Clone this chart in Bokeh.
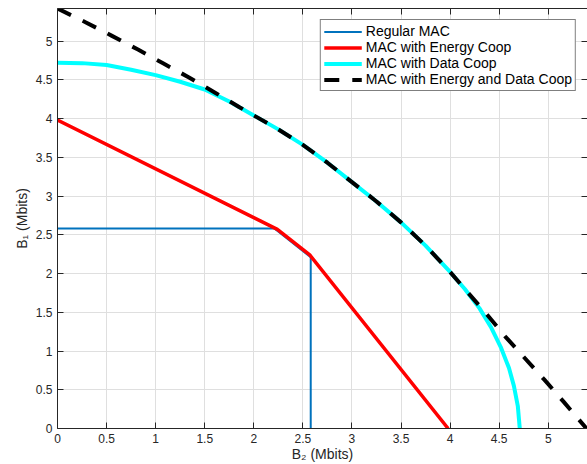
from bokeh.plotting import figure
from bokeh.models import LinearAxis, FixedTicker, Range1d, Legend, LegendItem, CustomJSTickFormatter
from bokeh.embed import file_html
from bokeh.resources import INLINE

# ---- data ----
tick_values = [0, 0.5, 1, 1.5, 2, 2.5, 3, 3.5, 4, 4.5, 5]

regular_x = [0, 2.21, 2.58, 2.58]
regular_y = [2.58, 2.58, 2.21, 0]

energy_x = [0, 2.24, 2.57, 3.98]
energy_y = [3.98, 2.57, 2.24, 0]

data_x = [0, 0.25, 0.5, 0.75, 1.0, 1.25, 1.5, 1.75, 2.0, 2.25, 2.5, 2.75, 3.0, 3.25, 3.5,
          3.75, 4.0, 4.15, 4.3, 4.42, 4.52, 4.6, 4.65, 4.69, 4.71]
data_y = [4.72, 4.715, 4.69, 4.63, 4.56, 4.475, 4.375, 4.22, 4.04, 3.86, 3.66, 3.43, 3.18, 2.93, 2.66,
          2.36, 2.02, 1.80, 1.55, 1.30, 1.04, 0.78, 0.55, 0.29, 0]

both_x = [0, 0.29, 0.55, 0.82, 1.08, 1.34, 1.61, 1.85, 2.0, 2.25, 2.5, 2.75, 3.0, 3.25, 3.5,
          3.75, 4.0, 4.15, 4.37, 4.56, 4.76, 4.96, 5.16, 5.39]
both_y = [5.42, 5.24, 5.07, 4.89, 4.71, 4.53, 4.33, 4.15, 4.04, 3.86, 3.66, 3.43, 3.18, 2.93, 2.66,
          2.36, 2.02, 1.80, 1.48, 1.19, 0.91, 0.63, 0.34, 0]

series_names = ["Regular MAC", "MAC with Energy Coop", "MAC with Data Coop",
                "MAC with Energy and Data Coop"]

FONT = "Liberation Sans"
AX = "#262626"

p = figure(width=587, height=464, x_range=Range1d(0, 5.4), y_range=Range1d(0, 5.42),
           output_backend="svg", toolbar_location=None,
           min_border_left=57, min_border_right=0, min_border_top=8, min_border_bottom=36)
p.outline_line_color = None

top_axis = LinearAxis()
right_axis = LinearAxis()
p.add_layout(top_axis, "above")
p.add_layout(right_axis, "right")

for ax in p.axis:
    ax.ticker = FixedTicker(ticks=tick_values)
    ax.axis_line_color = AX
    ax.axis_line_width = 1
    ax.major_tick_line_color = AX
    ax.major_tick_in = 6
    ax.major_tick_out = 0
    ax.minor_tick_line_color = None
    ax.major_label_text_font = FONT
    ax.major_label_text_font_size = "12px"
    ax.major_label_text_color = AX
    ax.axis_label_text_font = FONT
    ax.axis_label_text_font_size = "14px"
    ax.axis_label_text_font_style = "normal"
    ax.axis_label_text_color = AX

for ax in (top_axis, right_axis):
    ax.formatter = CustomJSTickFormatter(code="return ''")
    ax.major_label_standoff = 0

bottom_axis = p.below[0]
left_axis = p.left[0]
bottom_axis.axis_label = "B₂ (Mbits)"
left_axis.axis_label = "B₁ (Mbits)"
bottom_axis.major_label_standoff = 5
left_axis.major_label_standoff = 5
bottom_axis.axis_label_standoff = 0
left_axis.axis_label_standoff = 3

p.xgrid.ticker = FixedTicker(ticks=tick_values)
p.ygrid.ticker = FixedTicker(ticks=tick_values)
p.grid.grid_line_color = "#dfdfdf"
p.grid.grid_line_width = 1

r1 = p.line(regular_x, regular_y, line_color="#0072BD", line_width=2)
r2 = p.line(energy_x, energy_y, line_color="#FF0000", line_width=3.5)
r3 = p.line(data_x, data_y, line_color="#00FFFF", line_width=4)
r4 = p.line(both_x, both_y, line_color="black", line_width=4, line_dash="15 13")

legend = Legend(items=[LegendItem(label=n, renderers=[r]) for n, r in
                       zip(series_names, [r1, r2, r3, r4])],
                location="top_right")
legend.border_line_color = "black"
legend.border_line_width = 1
legend.background_fill_alpha = 1
legend.label_text_font = FONT
legend.label_text_font_size = "14px"
legend.label_text_color = "black"
legend.label_height = 13
legend.glyph_height = 13
legend.glyph_width = 38
legend.label_standoff = 4
legend.padding = 3
legend.spacing = 0
legend.margin = 11
p.add_layout(legend, "center")

open("out.html", "w").write(file_html(p, INLINE))
